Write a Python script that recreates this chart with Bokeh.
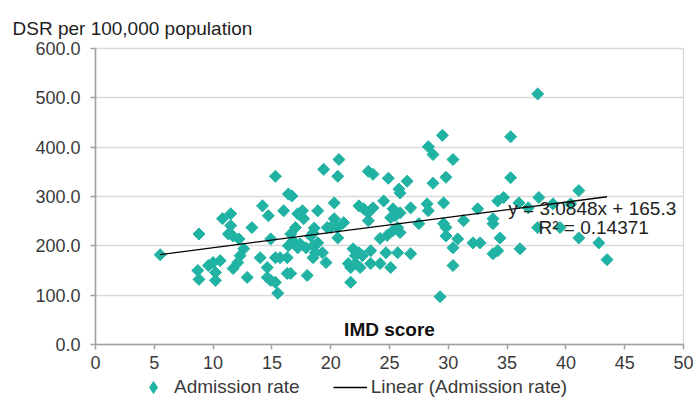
import numpy as np
from bokeh.plotting import figure
from bokeh.layouts import column
from bokeh.models import Range1d, FixedTicker, PrintfTickFormatter, Label, Legend, LegendItem, ColumnDataSource
from bokeh.embed import file_html
from bokeh.resources import INLINE

# ---- data ----
imd_score = [5.5, 8.8, 8.7, 8.8, 9.6, 10.0, 10.2, 10.2, 10.6, 10.8, 11.5, 11.5, 11.3, 11.7, 12.2,
             11.7, 12.1, 12.3, 12.6, 12.9, 13.3, 14.2, 14.7, 14.0, 14.6, 14.6, 14.9, 15.5, 15.3,
             14.9, 15.3, 15.7, 16.0, 16.4, 16.7, 16.3, 16.6, 16.3, 16.4, 16.6, 17.0, 17.2, 17.6,
             17.7, 16.8, 17.2, 17.4, 17.9, 18.0, 18.9, 18.5, 18.5, 18.7, 18.9, 19.3, 19.6, 20.3,
             20.3, 20.6, 20.6, 20.0, 21.1, 21.5, 21.7, 15.3, 19.4, 20.7, 20.6, 29.5, 28.3, 28.7,
             30.4, 23.2, 23.6, 24.9, 26.5, 25.8, 25.9, 28.7, 29.8, 22.4, 22.8, 23.2, 23.6, 23.2,
             24.5, 25.3, 25.5, 25.1, 25.9, 26.8, 27.5, 28.2, 28.3, 29.6, 29.6, 29.8, 29.8, 31.3,
             32.5, 30.8, 30.4, 32.1, 32.7, 30.4, 29.3, 18.6, 18.3, 19.7, 18.5, 21.9, 22.1, 22.4,
             22.7, 21.7, 22.1, 22.5, 23.4, 23.4, 24.2, 24.7, 25.1, 25.7, 26.8, 24.2, 24.8, 25.3,
             25.7, 25.9, 37.6, 35.3, 35.3, 34.2, 34.7, 36.0, 37.7, 41.1, 36.8, 38.9, 40.4, 33.8,
             33.8, 37.6, 39.5, 41.1, 42.8, 43.5, 36.1, 34.4, 34.2, 33.8]
admission_rate = [182, 224, 150, 132, 160, 166, 146, 130, 170, 255, 265, 241, 224, 220, 214,
                  154, 166, 180, 194, 136, 237, 281, 261, 176, 156, 136, 130, 104, 126,
                  214, 176, 176, 271, 305, 301, 144, 144, 176, 200, 224, 237, 265, 271,
                  255, 210, 196, 204, 196, 140, 271, 226, 176, 186, 206, 186, 166, 287,
                  255, 237, 216, 237, 247, 164, 126, 341, 355, 375, 341, 424, 401, 385,
                  375, 351, 345, 337, 331, 315, 307, 327, 339, 281, 275, 267, 277, 251,
                  291, 275, 261, 257, 267, 277, 245, 285, 271, 287, 245, 237, 220, 251,
                  275, 214, 196, 206, 206, 160, 97, 236, 220, 237, 200, 194, 180, 186,
                  180, 156, 164, 156, 190, 164, 164, 186, 156, 186, 184, 215, 221, 231,
                  237, 227, 508, 421, 338, 291, 298, 287, 298, 312, 277, 285, 285, 255,
                  245, 237, 237, 216, 206, 172, 194, 216, 190, 184]
trend_slope = 3.0848
trend_intercept = 165.3
trend_r2 = 0.14371
x_ticks = [0, 5, 10, 15, 20, 25, 30, 35, 40, 45, 50]
y_ticks = [0, 100, 200, 300, 400, 500, 600]

FONT = "Liberation Sans"
TEAL = "#20b3a3"
TXT = "#3a3a3a"
AXIS = "#a0a0a0"
GRID = "#d9d9d9"

x0, x1 = min(imd_score), max(imd_score)
trend_x = [x0, x1]
trend_y = [trend_slope * x0 + trend_intercept, trend_slope * x1 + trend_intercept]

# ---------------- main chart ----------------
p = figure(width=694, height=376, output_backend="svg", toolbar_location=None,
           x_range=Range1d(0, 50), y_range=Range1d(0, 600),
           min_border_left=95, min_border_right=11, min_border_top=48, min_border_bottom=32)
p.background_fill_color = "white"
p.border_fill_color = "white"
p.outline_line_color = GRID
p.outline_line_width = 1.3

p.title.text = "DSR per 100,000 population"
p.title.align = "left"
p.title.offset = -83
p.title.standoff = 20
p.title.text_font = FONT
p.title.text_font_size = "19px"
p.title.text_font_style = "normal"
p.title.text_color = "#222222"

for ax in (p.xaxis[0], p.yaxis[0]):
    ax.axis_line_color = AXIS
    ax.axis_line_width = 1.5
    ax.major_tick_line_color = AXIS
    ax.major_tick_line_width = 1.5
    ax.major_tick_in = 0
    ax.major_tick_out = 5
    ax.minor_tick_line_color = None
    ax.major_label_text_font = FONT
    ax.major_label_text_font_size = "18px"
    ax.major_label_text_color = TXT
p.xaxis.ticker = FixedTicker(ticks=x_ticks)
p.yaxis.ticker = FixedTicker(ticks=y_ticks)
p.yaxis.formatter = PrintfTickFormatter(format="%.1f")
p.xaxis.major_label_standoff = 6
p.yaxis.major_label_standoff = 10
p.xgrid.grid_line_color = None
p.ygrid.ticker = FixedTicker(ticks=y_ticks)
p.ygrid.grid_line_color = GRID
p.ygrid.grid_line_width = 1.3

src = ColumnDataSource(dict(x=imd_score, y=admission_rate))
p.scatter("x", "y", source=src, marker="square", size=8.5, angle=np.pi / 4,
          fill_color=TEAL, line_color=TEAL)
p.line(trend_x, trend_y, line_color="black", line_width=1.3)

p.add_layout(Label(x=25, y=10.1, text="IMD score", text_align="center",
                   text_font=FONT, text_font_size="19px", text_font_style="bold",
                   text_color="#111111"))
p.add_layout(Label(x=35.1, y=255.4, text=f"y = {trend_slope}x + {trend_intercept}",
                   text_font=FONT, text_font_size="19px", text_color="#222222"))
p.add_layout(Label(x=37.67, y=214.9, text=f"R² = {trend_r2}",
                   text_font=FONT, text_font_size="19px", text_color="#222222"))

# ---------------- legend strip ----------------
# a thin figure whose ranges exclude the data, so only its legend shows
lg = figure(width=694, height=22, output_backend="svg", toolbar_location=None,
            x_range=Range1d(0, 50), y_range=Range1d(0, 1),
            x_axis_location=None, y_axis_location=None, min_border=0)
lg.outline_line_color = None
lg.grid.visible = False
lg.background_fill_color = "white"
lg.border_fill_color = "white"
key_pts = lg.scatter(x=imd_score, y=admission_rate, marker="diamond", size=14,
                     fill_color=TEAL, line_color=TEAL)
key_line = lg.line(trend_x, trend_y, line_color="black", line_width=1.3)

legend = Legend(items=[LegendItem(label="Admission rate", renderers=[key_pts]),
                       LegendItem(label="Linear (Admission rate)", renderers=[key_line])],
                location=(41, -4), orientation="horizontal",
                glyph_width=34, glyph_height=30, label_height=16, label_standoff=4, spacing=33,
                padding=0, margin=0, border_line_color=None, background_fill_alpha=0,
                label_text_font=FONT, label_text_font_size="19px", label_text_color=TXT)
lg.add_layout(legend)

layout = column(p, lg, spacing=0)
open("out.html", "w").write(file_html(layout, INLINE))
